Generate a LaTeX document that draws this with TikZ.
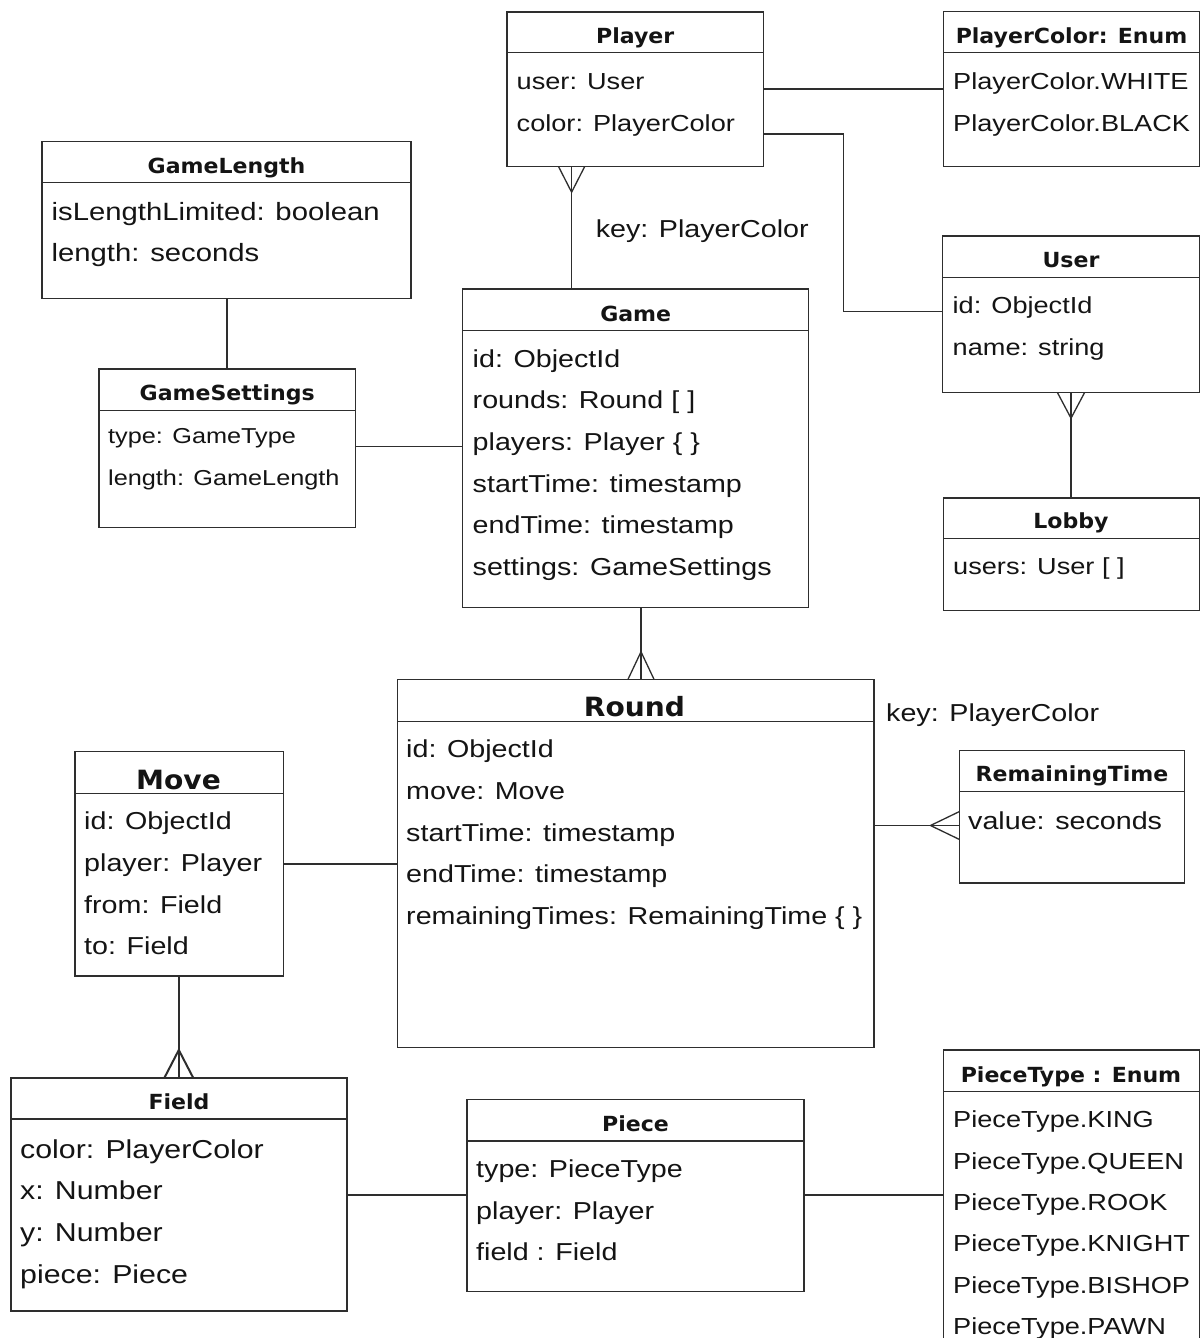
\documentclass[tikz,border=0pt]{standalone}
\usepackage{fontspec}
\setmainfont{Liberation Sans}
\newfontfamily\bodyfont{Liberation Sans}[FakeStretch=1.17]
\newfontfamily\titlefont{DejaVu Sans}[FakeStretch=1.06]
\usetikzlibrary{calc}
\definecolor{lc}{HTML}{2E2E2E}
\definecolor{tc}{HTML}{141414}
\tikzset{
  ln/.style={draw=lc, line width=1.3pt},
  thick ln/.style={draw=lc, line width=2.6pt},
  cbox/.style={draw=lc, line width=1.3pt, fill=white, inner sep=0pt, outer sep=0pt, anchor=north west},
  ttl/.style={anchor=base, inner sep=0pt, text=tc, font=\titlefont\bfseries\fontsize{20.8}{24}\selectfont},
  bigttl/.style={anchor=base, inner sep=0pt, text=tc, font=\titlefont\bfseries\fontsize{26.5}{30}\selectfont},
  row/.style={anchor=base west, inner sep=0pt, text=tc, font=\bodyfont\fontsize{#1}{#1}\selectfont},
}
% name, left, top, right, bottom, divider
\newcommand{\umlclass}[6]{%
  \node[cbox, minimum width={(#4)-(#2)}, minimum height={(#5)-(#3)}] (#1) at (#2,#3) {};
  \draw[ln] (#1.west |- 0,#6) -- (#1.east |- 0,#6);
}
\begin{document}
\begin{tikzpicture}[x=1pt, y=-1pt]
\useasboundingbox (0,0) rectangle (1202,1338);
\fill[white] (0,0) rectangle (1202,1338);

% ---------- boxes ----------
\umlclass{player}{507}{12}{763.3}{166.7}{52.7}
\umlclass{pcolor}{943.5}{11.7}{1199.5}{166.7}{52.7}
\umlclass{glength}{42}{141.7}{411}{298.3}{182.7}
\umlclass{user}{942.7}{236}{1199.5}{392.7}{277.3}
\umlclass{game}{462.8}{289}{808.5}{607.3}{330.7}
\umlclass{gsettings}{99}{369}{355.3}{527.3}{410.3}
\umlclass{lobby}{943.5}{498}{1199.5}{610.5}{538.3}
\umlclass{round}{397.3}{679.3}{874}{1047.5}{721.3}
\umlclass{rtime}{959.5}{750.5}{1184.5}{883}{791.7}
\umlclass{move}{75}{751.5}{283.3}{976}{793.3}
\umlclass{field}{11}{1078}{347}{1311}{1119}
\umlclass{piece}{467}{1099.3}{804}{1291.7}{1141}
\umlclass{ptype}{943.5}{1050}{1199.5}{1360}{1091.7}

% ---------- titles ----------
\node[ttl] (playerT) at (635.2,43.2) {Player};
\node[ttl] (pcolorT) at (1071.5,43.2) {PlayerColor: Enum};
\node[ttl] (glengthT) at (226.5,173.2) {GameLength};
\node[ttl] (userT) at (1071,267.8) {User};
\node[ttl] (gameT) at (635.7,321.2) {Game};
\node[ttl] (gsettingsT) at (227.2,400.8) {GameSettings};
\node[ttl] (lobbyT) at (1071,528.8) {Lobby};
\node[bigttl] (roundT) at (634.5,716.8) {Round};
\node[ttl] (rtimeT) at (1072,781.9) {RemainingTime};
\node[bigttl] (moveT) at (178.5,789.3) {Move};
\node[ttl] (fieldT) at (179,1109.5) {Field};
\node[ttl] (pieceT) at (635.5,1131.5) {Piece};
\node[ttl] (ptypeT) at (1071,1082.2) {PieceType : Enum};

% ---------- rows ----------
\node[row=23.2] (player1) at (516.5,89.3) {user: User};
\node[row=23.2] (player2) at (516.5,131) {color: PlayerColor};

\node[row=23.2] (pcolor1) at (953,89.3) {PlayerColor.WHITE};
\node[row=23.2] (pcolor2) at (953,131) {PlayerColor.BLACK};

\node[row=25] (glength1) at (51.5,220) {isLengthLimited: boolean};
\node[row=25] (glength2) at (51.5,261.6) {length: seconds};

\node[row=23.2] (user1) at (952.5,313.5) {id: ObjectId};
\node[row=23.2] (user2) at (952.5,355.2) {name: string};

\node[row=24.5] (game1) at (472.5,367) {id: ObjectId};
\node[row=24.5] (game2) at (472.5,408.7) {rounds: Round [ ]};
\node[row=24.5] (game3) at (472.5,450.4) {players: Player \{ \}};
\node[row=24.5] (game4) at (472.5,492) {startTime: timestamp};
\node[row=24.5] (game5) at (472.5,533.7) {endTime: timestamp};
\node[row=24.5] (game6) at (472.5,575.4) {settings: GameSettings};

\node[row=21.6] (gsettings1) at (108,443.5) {type: GameType};
\node[row=21.6] (gsettings2) at (108,485.2) {length: GameLength};

\node[row=23.2] (lobby1) at (953,574.8) {users: User [ ]};

\node[row=24.5] (key1) at (595.6,237) {key: PlayerColor};

\node[row=24.5] (round1) at (406,757.8) {id: ObjectId};
\node[row=24.5] (round2) at (406,799.5) {move: Move};
\node[row=24.5] (round3) at (406,841.2) {startTime: timestamp};
\node[row=24.5] (round4) at (406,882.9) {endTime: timestamp};
\node[row=24.5] (round5) at (406,924.6) {remainingTimes: RemainingTime \{ \}};

\node[row=24.5] (key2) at (886,721) {key: PlayerColor};

\node[row=24.5] (rtime1) at (968,829) {value: seconds};

\node[row=24.5] (move1) at (84,829.8) {id: ObjectId};
\node[row=24.5] (move2) at (84,871.5) {player: Player};
\node[row=24.5] (move3) at (84,913.2) {from: Field};
\node[row=24.5] (move4) at (84,954.9) {to: Field};

\node[row=25.9] (field1) at (20,1158) {color: PlayerColor};
\node[row=25.9] (field2) at (20,1199.7) {x: Number};
\node[row=25.9] (field3) at (20,1241.4) {y: Number};
\node[row=25.9] (field4) at (20,1283) {piece: Piece};

\node[row=24.5] (piece1) at (476,1177.5) {type: PieceType};
\node[row=24.5] (piece2) at (476,1219.2) {player: Player};
\node[row=24.5] (piece3) at (476,1260.9) {field : Field};

\node[row=23.2] (ptype1) at (953,1127.6) {PieceType.KING};
\node[row=23.2] (ptype2) at (953,1169) {PieceType.QUEEN};
\node[row=23.2] (ptype3) at (953,1210.4) {PieceType.ROOK};
\node[row=23.2] (ptype4) at (953,1251.8) {PieceType.KNIGHT};
\node[row=23.2] (ptype5) at (953,1293.2) {PieceType.BISHOP};
\node[row=23.2] (ptype6) at (953,1334.6) {PieceType.PAWN};

% ---------- connectors ----------
% Player -- PlayerColor
\draw[ln] (player.east |- 0,89) -- (pcolor.west |- 0,89);
% Player -- User
\coordinate (bendPU) at (843.5,134);
\draw[ln] (player.east |- bendPU) -- (bendPU) |- (user.west |- 0,311.5);
% Player -- Game (many at Player)
\coordinate (xPG) at (571.6,0);
\draw[ln] (game.north -| xPG) -- (player.south -| xPG);
\draw[ln] ($(player.south -| xPG)+(-13,0)$) -- ($(player.south -| xPG)+(0,25.5)$) -- ($(player.south -| xPG)+(13,0)$);
% User -- Lobby (many at User)
\coordinate (xUL) at (1071,0);
\draw[ln] (lobby.north -| xUL) -- (user.south -| xUL);
\draw[ln] ($(user.south -| xUL)+(-13.5,0)$) -- ($(user.south -| xUL)+(0,25.5)$) -- ($(user.south -| xUL)+(13.5,0)$);
% GameLength -- GameSettings
\coordinate (xGG) at (227,0);
\draw[ln] (glength.south -| xGG) -- (gsettings.north -| xGG);
% GameSettings -- Game
\draw[ln] (gsettings.east |- 0,446.3) -- (game.west |- 0,446.3);
% Game -- Round (many at Round)
\coordinate (xGR) at (641,0);
\draw[ln] (game.south -| xGR) -- (round.north -| xGR);
\draw[ln] ($(round.north -| xGR)+(-13,0)$) -- ($(round.north -| xGR)+(0,-27.5)$) -- ($(round.north -| xGR)+(13,0)$);
% Round -- RemainingTime (many at RemainingTime)
\coordinate (yRR) at (0,825.5);
\draw[ln] (round.east |- yRR) -- (rtime.west |- yRR);
\draw[ln] ($(rtime.west |- yRR)+(0,-14)$) -- ($(rtime.west |- yRR)+(-29,0)$) -- ($(rtime.west |- yRR)+(0,14)$);
% Move -- Round
\draw[ln] (move.east |- 0,864) -- (round.west |- 0,864);
% Move -- Field (many at Field)
\coordinate (xMF) at (178.8,0);
\draw[thick ln] (move.south -| xMF) -- (field.north -| xMF);
\draw[draw=lc, line width=2pt] ($(field.north -| xMF)+(-14.5,0)$) -- ($(field.north -| xMF)+(0,-28)$) -- ($(field.north -| xMF)+(14.5,0)$);
% Field -- Piece
\draw[ln] (field.east |- 0,1195) -- (piece.west |- 0,1195);
% Piece -- PieceType
\draw[ln] (piece.east |- 0,1195) -- (ptype.west |- 0,1195);
\end{tikzpicture}
\end{document}
